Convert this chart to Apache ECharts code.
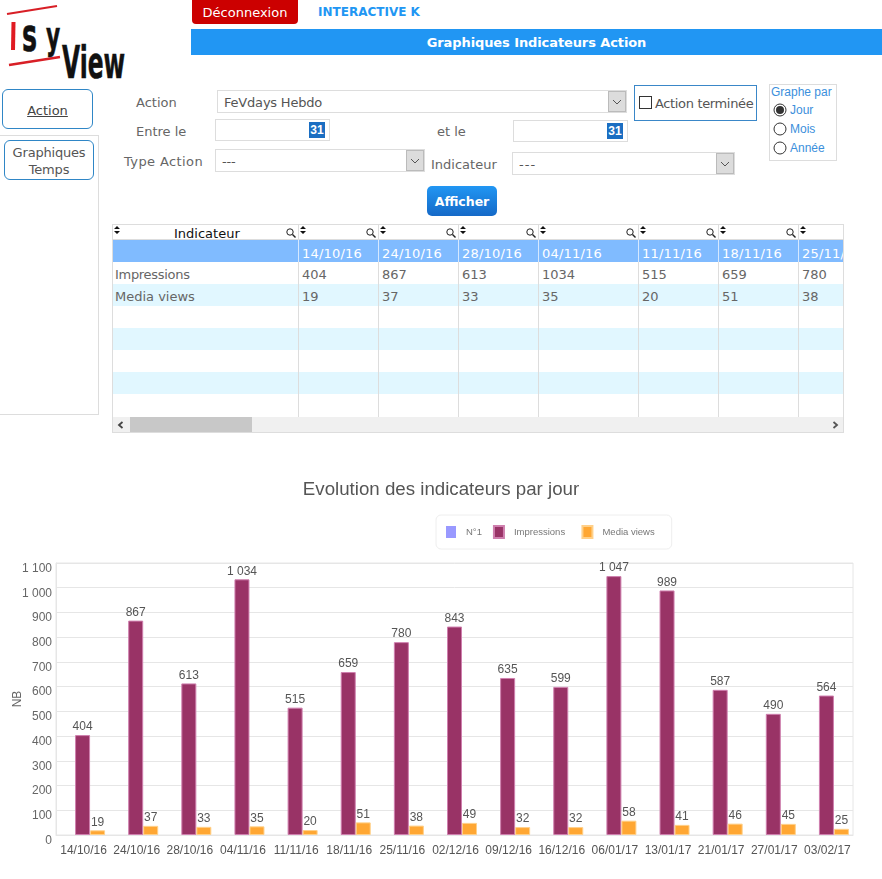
<!DOCTYPE html>
<html lang="fr"><head><meta charset="utf-8"><title>Graphiques Indicateurs Action</title>
<script src="https://cdn.jsdelivr.net/npm/echarts@6/dist/echarts.min.js"></script>
<style>
html,body{margin:0;padding:0;background:#fff;width:882px;height:879px;overflow:hidden}
#ui{position:absolute;left:0;top:0;width:882px;height:470px;font-family:"DejaVu Sans",sans-serif;font-size:13px;color:#666}
#ui .a{position:absolute;box-sizing:border-box;white-space:nowrap}
#chart{position:absolute;left:0;top:470px;width:882px;height:409px}
</style></head><body>
<div id="ui"></div><div id="chart"></div>
<script>
const categories = ['14/10/16','24/10/16','28/10/16','04/11/16','11/11/16','18/11/16','25/11/16','02/12/16','09/12/16','16/12/16','06/01/17','13/01/17','21/01/17','27/01/17','03/02/17'];
const impressions = [404,867,613,1034,515,659,780,843,635,599,1047,989,587,490,564];
const mediaViews = [19,37,33,35,20,51,38,49,32,32,58,41,46,45,25];
const n1Values = [];
const seriesNames = ['N°1','Impressions','Media views'];
const yTicks = {min:0,max:1100,interval:100};
const tableColumns = [298,378,458,538,638,718,798];

const ui = document.getElementById('ui');
function box(x,y,w,h,css,text,parent){
  const d=document.createElement('div');d.className='a';
  d.style.cssText=`left:${x}px;top:${y}px;width:${w}px;height:${h}px;${css||''}`;
  if(text!==undefined)d.textContent=text;
  (parent||ui).appendChild(d);return d;
}
function label(x,cy,text,css,parent){return box(x,cy-8,undefined,18,'width:auto;line-height:18px;'+(css||''),text,parent);}
function label0(x,cy,text,css){return box(x,cy-9,undefined,18,'width:auto;line-height:18px;'+(css||''),text);}
function centered(x,y,w,h,text,css,parent){return box(x,y,w,h,`text-align:center;line-height:${h+2}px;`+(css||''),text,parent);}
function svg(x,y,w,h,inner,parent){
  const d=box(x,y,w,h,'',undefined,parent);
  d.innerHTML=`<svg width="${w}" height="${h}" viewBox="0 0 ${w} ${h}" style="display:block">${inner}</svg>`;return d;
}

/* logo */
const logoFont='font-family="DejaVu Sans" font-weight="bold" fill="#111" stroke="#111" stroke-width=".6"';
svg(0,0,135,85,
 '<path d="M7 14 L57 6" stroke="#d81f26" stroke-width="2.2"/><path d="M9 65 L60 57" stroke="#d81f26" stroke-width="2.6"/><path d="M13.5 22 L13 50" stroke="#e01b22" stroke-width="4"/>'+
 `<text transform="translate(22,51) scale(.55,1)" font-size="46" ${logoFont}>s</text>`+
 `<text transform="translate(46,49) scale(.56,1)" font-size="39" ${logoFont}>y</text>`+
 `<text transform="translate(62,78) scale(.52,1)" font-size="45" ${logoFont}>View</text>`);

/* header */
centered(192,0,106,24,'Déconnexion','background:#cc0000;color:#fff;border-radius:0 0 4px 4px;font-size:13px');
label0(318,12,'INTERACTIVE K','font-weight:bold;font-size:12px;color:#2196f3');
centered(191,29,691,26,'Graphiques Indicateurs Action','background:#2196f3;color:#fff;font-weight:bold;font-size:13px;letter-spacing:-.1px');

/* sidebar */
const blueBorder='border:1px solid #2f86c6;border-radius:6px;';
centered(2,89,91,40,'Action',blueBorder+'color:#444;text-decoration:underline;line-height:42px');
box(0,135,99,280,'border-top:1px solid #ddd;border-right:1px solid #ddd;border-bottom:1px solid #ddd');
box(4,140,90,40,blueBorder+'color:#555;text-align:center;line-height:17px;padding-top:3px;white-space:normal;letter-spacing:-.2px','Graphiques Temps');

/* form */
label(136,102,'Action');
label(136,131,'Entre le');
label(124,161,'Type Action','letter-spacing:.4px');
label(437,131,'et le');
label(431,164,'Indicateur');
function select(x,y,w,h,text,gap){
  box(x,y,w,h,'border:1px solid #ddd');
  label(x+7,y+h/2,text,'color:#555;'+(gap?'letter-spacing:1px':'letter-spacing:-.2px'));
  box(x+w-19,y+1,18,h-2,'background:#dcdcdc;border:1px solid #bbb');
  svg(x+w-15,y+h/2-3,10,6,'<path d="M1 1 L5 5 L9 1" fill="none" stroke="#555" stroke-width="1"/>');
}
select(217,90,410,23,'FeVdays Hebdo');
select(215,149,210,23,'---');
select(512,152,223,23,'---',true);
function dateInput(x,y){
  box(x,y,115,22,'border:1px solid #ddd');
  box(x+94,y+3,16,16,'background:#1b6ec2;color:#fff;text-align:center;font:bold 12px/17px "Liberation Sans Narrow","Liberation Sans"','31');
}
dateInput(215,119);
dateInput(513,120);
box(634,85,123,36,'border:1px solid #3a87c8');
box(639,96,13,13,'border:1px solid #333');
label(655,103,'Action terminée','color:#555;letter-spacing:-.35px');
box(769,84,68,77,'border:1px solid #ddd');
const radioCss='font:12px/18px "Liberation Sans";color:#3b8fdc';
label0(771,92,'Graphe par',radioCss);
[['Jour',110,true],['Mois',129,false],['Année',148,false]].forEach(([t,cy,on])=>{
  svg(773,cy-7,14,14,`<circle cx="7" cy="7" r="6" fill="#fff" stroke="#333" stroke-width="1"/>`+(on?'<circle cx="7" cy="7" r="4" fill="#333"/>':''));
  label0(790,cy,t,radioCss);
});
centered(427,186,70,30,'Afficher','background:linear-gradient(#2196f3,#1569c7);color:#fff;font-weight:bold;font-size:12.5px;border-radius:5px');

/* table */
const tX=112,tR=844,tTop=224,rowH=22;
box(tX,tTop,tR-tX,209,'border:1px solid #ddd');
box(tX+1,240,tR-tX-2,22,'background:#80bbff');
for(let i=0;i<7;i++) if(i%2===1) box(tX+1,262+i*rowH,tR-tX-2,22,'background:#e1f7ff');
box(tX+1,239,tR-tX-2,1,'background:#ddd');
const edges=[tX,...tableColumns];
tableColumns.forEach(x=>box(x,225,1,192,'background:#ddd'));
tableColumns.forEach(x=>box(x,240,1,22,'background:#d5e8ff'));
const sortIcon='<path d="M3 0 L6 3 L0 3 Z M0 5 L6 5 L3 8 Z" fill="#111"/>';
const lens='<circle cx="4" cy="4" r="3.2" fill="none" stroke="#222" stroke-width="1"/><path d="M6.5 6.5 L9.5 9.5" stroke="#222" stroke-width="1.4"/>';
edges.forEach((x,i)=>{
  svg(x+2,226,6,8,sortIcon);
  const next=edges[i+1];
  if(next) svg(next-12,228,10,10,lens);
});
label(174,233,'Indicateur','color:#111');
const clip=box(tX+1,240,tR-tX-2,66,'overflow:hidden');
tableColumns.forEach((x,i)=>{
  label(x+4-tX-1,13,categories[i],'color:#fff;letter-spacing:.2px',clip);
  label(x+4-tX-1,34,String(impressions[i]),'color:#666',clip);
  label(x+4-tX-1,56,String(mediaViews[i]),'color:#666',clip);
});
label(115,274,seriesNames[1],'letter-spacing:-.3px');
label(115,296,seriesNames[2]);
box(tX+1,417,tR-tX-2,16,'background:#f0f0f0;border-bottom:1px solid #ddd');
box(130,417,122,15,'background:#c8c8c8');
svg(117,421,7,8,'<path d="M5.5 1 L2 4 L5.5 7" fill="none" stroke="#444" stroke-width="1.8"/>');
svg(832,421,7,8,'<path d="M1.5 1 L5 4 L1.5 7" fill="none" stroke="#555" stroke-width="1.8"/>');

/* chart */
const fmt=v=>String(v).replace(/\B(?=(\d{3})+$)/g,' ');
const chart=echarts.init(document.getElementById('chart'));
const labelStyle={show:true,position:'top',distance:2,color:'#555',fontSize:12,fontFamily:'"Liberation Sans"',formatter:p=>fmt(p.value)};
chart.setOption({
  animation:false,
  backgroundColor:'#fff',
  title:{text:'Evolution des indicateurs par jour',left:'center',top:5,textStyle:{color:'#555',fontSize:18.7,fontWeight:'normal',fontFamily:'"Liberation Sans"'}},
  legend:{data:seriesNames,left:436,top:45,itemWidth:10,itemHeight:12,itemGap:11,padding:[10,17,10,10],borderColor:'#eee',borderWidth:1,borderRadius:5,
    icon:'rect',formatter:name=>name===seriesNames[1]?name+'\u00a0\u00a0':name,textStyle:{color:'#777',fontSize:9.5,fontFamily:'"Liberation Sans"',padding:[0,0,0,5]}},
  grid:{left:56,right:29,top:93,bottom:44,outerBoundsMode:'none',show:true,borderColor:'#e6e6e6',borderWidth:1},
  xAxis:{type:'category',data:categories,axisTick:{show:false},axisLine:{lineStyle:{color:'#e6e6e6'}},
    axisLabel:{interval:0,color:'#555',fontSize:12,margin:10,padding:[0,0,0,2],fontFamily:'"Liberation Sans"'}},
  yAxis:{type:'value',min:yTicks.min,max:yTicks.max,interval:yTicks.interval,name:'NB',nameLocation:'middle',nameGap:32,nameMoveOverlap:false,
    nameTextStyle:{color:'#666',fontSize:12,fontFamily:'"Liberation Sans"'},
    axisLine:{show:true,lineStyle:{color:'#e6e6e6'}},axisTick:{show:false},splitLine:{lineStyle:{color:'#e6e6e6'}},
    axisLabel:{color:'#666',fontSize:12,margin:4,verticalAlign:'top',lineHeight:11,fontFamily:'"Liberation Sans"',formatter:fmt}},
  series:[
    {name:seriesNames[0],type:'bar',barWidth:15,barGap:0,data:n1Values,itemStyle:{color:'#9999ff'}},
    {name:seriesNames[1],type:'bar',barWidth:15,barGap:0,data:impressions,label:labelStyle,itemStyle:{color:'#993366',borderColor:'#cf7fae',borderWidth:1}},
    {name:seriesNames[2],type:'bar',barWidth:15,barGap:0,data:mediaViews,label:labelStyle,itemStyle:{color:'#ffa733',borderColor:'#ffd089',borderWidth:1}}
  ]
});
</script></body></html>
